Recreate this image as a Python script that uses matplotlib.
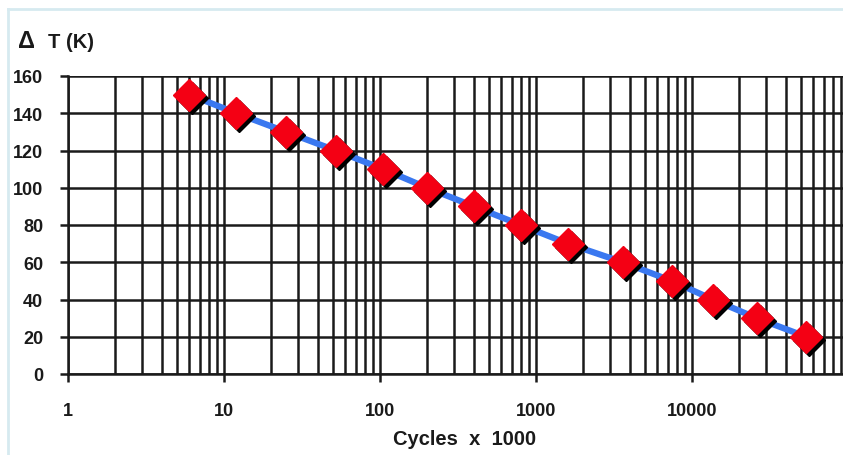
import matplotlib.pyplot as plt
from matplotlib.lines import Line2D
from matplotlib.ticker import FixedLocator, NullFormatter, LogLocator
import matplotlib.transforms as mtrans

# cycles to failure (x1000) vs temperature swing
cycles = [6, 12, 25, 52, 105, 200, 400, 800, 1600, 3600, 7400, 13600, 26000, 54000]
delta_t = [150, 140, 130, 120, 110, 100, 90, 80, 70, 60, 50, 40, 30, 20]
x_ticks = [1, 10, 100, 1000, 10000]
y_ticks = [0, 20, 40, 60, 80, 100, 120, 140, 160]

plt.rcParams['font.family'] = ['Liberation Sans', 'DejaVu Sans']

fig = plt.figure(figsize=(8.43, 4.56), dpi=100)
ax = fig.add_axes([68/843, 81/456, 780/843, 298/456])

ax.set_xscale('log')
ax.set_xlim(1, 1e5)
ax.set_ylim(0, 160)

# grid
ax.xaxis.set_major_locator(FixedLocator(x_ticks))
ax.xaxis.set_minor_locator(LogLocator(base=10, subs=range(2, 10), numticks=20))
ax.xaxis.set_minor_formatter(NullFormatter())
ax.set_yticks(y_ticks)
ax.set_xticklabels([str(v) for v in x_ticks])
ax.grid(True, which='both', axis='x', color='#1a1a1a', lw=1.8)
ax.grid(True, which='major', axis='y', color='#1a1a1a', lw=1.8)
ax.tick_params(axis='both', which='major', direction='out', length=6, width=1.8,
               color='#1a1a1a', labelsize=13, labelcolor='#1a1a1a')
ax.tick_params(axis='x', which='major', pad=14)
ax.tick_params(axis='y', which='major', pad=12)
ax.tick_params(axis='x', which='minor', length=0)
for lab in ax.get_xticklabels() + ax.get_yticklabels():
    lab.set_fontweight('bold')
for s in ['top', 'right']:
    ax.spines[s].set_visible(False)
for s in ['left', 'bottom']:
    ax.spines[s].set_color('#1a1a1a')
    ax.spines[s].set_linewidth(1.8)
ax.set_axisbelow(True)

# curve and markers with drop shadow
ax.plot(cycles, delta_t, color='#3a78f0', lw=4.5, zorder=3)
shadow = ax.transData + mtrans.ScaledTranslation(3/100, -3/100, fig.dpi_scale_trans)
ax.plot(cycles, delta_t, ls='none', marker='D', ms=16, color='black',
        transform=shadow, zorder=4, clip_on=False)
ax.plot(cycles, delta_t, ls='none', marker='D', ms=16, color='#f40014',
        mec='#f40014', zorder=5, clip_on=False)

fig.text(18/843, 1 - 42/456, '\u0394', fontsize=17, fontweight='bold',
         color='#1a1a1a', va='center', ha='left')
fig.text(48/843, 1 - 42/456, 'T (K)', fontsize=14.5, fontweight='bold',
         color='#1a1a1a', va='center', ha='left')
fig.text(465/843, 1 - 440/456, 'Cycles  x  1000', fontsize=14.5, fontweight='bold',
         color='#1a1a1a', va='center', ha='center')

# outer chart frame
fig.add_artist(Line2D([8/843, 1], [1 - 10/456, 1 - 10/456], color='#d6eaf0', lw=2))
fig.add_artist(Line2D([8/843, 8/843], [1 - 10/456, 0], color='#d6eaf0', lw=2))

fig.savefig('out.png', dpi=100)
